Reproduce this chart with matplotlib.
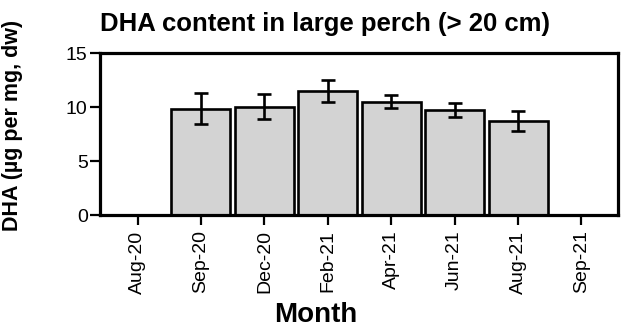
import numpy as np
import matplotlib.pyplot as plt

plt.rcParams['font.family'] = ['Liberation Sans', 'DejaVu Sans']

# DHA content per sampling month (mean and error)
months = ['Aug-20', 'Sep-20', 'Dec-20', 'Feb-21', 'Apr-21', 'Jun-21', 'Aug-21', 'Sep-21']
dha_mean = [np.nan, 9.85, 10.05, 11.5, 10.5, 9.75, 8.75, np.nan]
dha_err = [np.nan, 1.45, 1.15, 1.0, 0.62, 0.62, 0.93, np.nan]

fig = plt.figure(figsize=(6.22, 3.32), dpi=100)
ax = fig.add_axes([0.161, 0.352, 0.833, 0.488])

x = np.arange(len(months))
ax.bar(x, dha_mean, width=0.93, color='#d3d3d3', edgecolor='black', linewidth=1.9,
       yerr=dha_err, capsize=4.7, error_kw=dict(elinewidth=1.9, capthick=1.9, ecolor='black'))

ax.set_xlim(-0.59, 7.58)
ax.set_ylim(0, 15)
ax.set_yticks([0, 5, 10, 15])
ax.set_xticks(x)
ax.set_xticklabels(months, rotation=90, fontsize=14)
ax.tick_params(axis='y', labelsize=14, width=1.6, length=7, direction='out', pad=2)
ax.tick_params(axis='x', width=1.6, length=7, direction='out', pad=4)
for s in ax.spines.values():
    s.set_linewidth(2.3)

ax.set_title('DHA content in large perch (> 20 cm)', fontsize=18.5, fontweight='bold',
             loc='left', pad=16)
ax.set_xlabel('Month', fontsize=20, fontweight='bold')
ax.xaxis.set_label_coords(0.417, -0.535)
ax.xaxis.label.set_va('top')
ax.set_ylabel('DHA (µg per mg, dw)', fontsize=15.5, fontweight='bold')
ax.yaxis.set_label_coords(-0.149, 0.556)

fig.savefig('out.png', dpi=100)
